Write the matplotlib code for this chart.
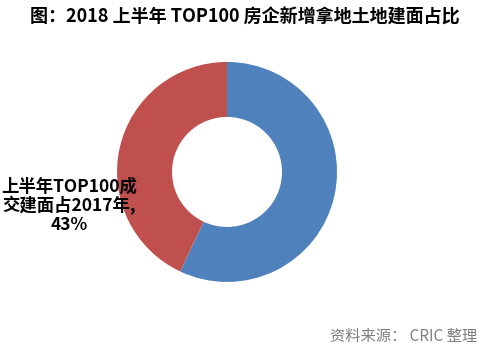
import matplotlib.pyplot as plt

plt.rcParams['font.family'] = ['Noto Sans CJK SC', 'DejaVu Sans']

# data
labels = ['下半年', '上半年TOP100成\n交建面占2017年,\n43%']
values = [57, 43]
colors = ['#4F81BD', '#C0504D']

fig = plt.figure(figsize=(4.88, 3.56), dpi=100)
ax = fig.add_axes([0.2398, 0.208, 0.4508, 0.618])

ax.pie(values, colors=colors, startangle=90, counterclock=False,
       radius=1, wedgeprops=dict(width=0.5, edgecolor='none'))
ax.set_xlim(-1, 1)
ax.set_ylim(-1, 1)
ax.set_aspect('equal')
ax.axis('off')

fig.text(245 / 488, 1 - 17 / 356, '图：2018 上半年 TOP100 房企新增拿地土地建面占比',
         ha='center', va='center', fontsize=13, fontweight='bold')

fig.text(69 / 488, 1 - 206 / 356, labels[1], ha='center', va='center',
         fontsize=12.5, fontweight='bold', linespacing=1.05)

fig.text(404 / 488, 1 - 336 / 356, '资料来源： CRIC 整理', ha='center', va='center',
         fontsize=11, color='#7f7f7f')

fig.savefig('out.png', dpi=100, facecolor='white')
